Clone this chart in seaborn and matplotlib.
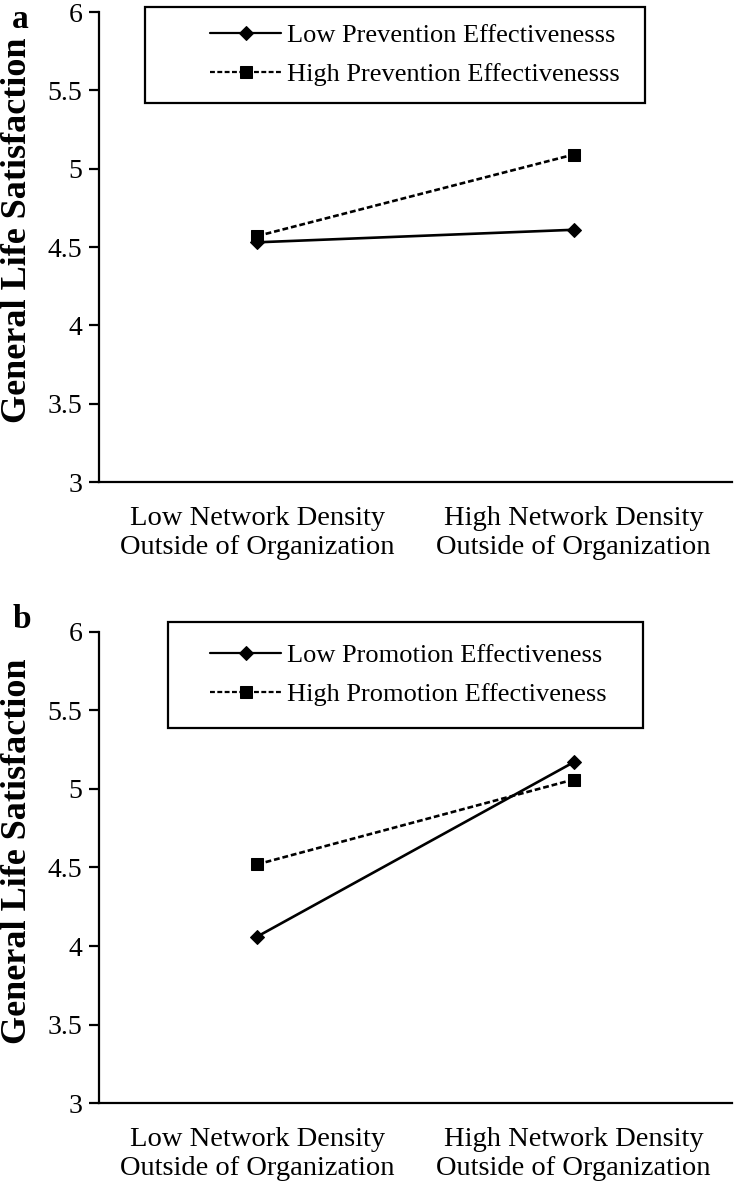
import matplotlib
matplotlib.use('Agg')
import matplotlib.pyplot as plt
import matplotlib.patches as mpatches
import numpy as np
import pandas as pd
import seaborn as sns

categories = ['Low Network Density\nOutside of Organization',
              'High Network Density\nOutside of Organization']

# panel a
series_a = ['Low Prevention Effectivenesss', 'High Prevention Effectivenesss']
low_prev = [4.53, 4.61]
high_prev = [4.57, 5.09]

# panel b
series_b = ['Low Promotion Effectiveness', 'High Promotion Effectiveness']
low_prom = [4.06, 5.17]
high_prom = [4.52, 5.06]

y_ticks = [3, 3.5, 4, 4.5, 5, 5.5, 6]
y_ticklabels = ['3', '3.5', '4', '4.5', '5', '5.5', '6']

sns.set_theme(style='white')
plt.rcParams['font.family'] = ['Liberation Serif', 'DejaVu Serif']
plt.rcParams['axes.edgecolor'] = 'black'
plt.rcParams['axes.linewidth'] = 1.6
plt.rcParams['text.color'] = 'black'
plt.rcParams['axes.labelcolor'] = 'black'
plt.rcParams['xtick.color'] = 'black'
plt.rcParams['ytick.color'] = 'black'


def make_df(names, low, high):
    rows = []
    for name, vals in zip(names, [low, high]):
        for i, v in enumerate(vals):
            rows.append({'x': i, 'y': v, 'series': name})
    return pd.DataFrame(rows)


def draw(ax, names, low, high, letter, letter_y, leg_anchor, box):
    df = make_df(names, low, high)
    sns.lineplot(data=df, x='x', y='y', hue='series', style='series',
                 palette={names[0]: 'black', names[1]: 'black'},
                 markers={names[0]: 'D', names[1]: 's'},
                 dashes={names[0]: '', names[1]: (2.2, 1.1)},
                 markersize=9, linewidth=1.9, markeredgecolor='black',
                 ax=ax, legend=True)
    # smaller diamond
    for ln in ax.lines:
        if ln.get_marker() == 'D':
            ln.set_markersize(7.5)
    handles, labels = ax.get_legend_handles_labels()
    for h in handles:
        if h.get_marker() == 'D':
            h.set_markersize(7)
        else:
            h.set_markersize(8)
        h.set_linewidth(1.6)
    ax.legend(handles, labels, loc='center left', bbox_to_anchor=leg_anchor,
              frameon=False, fontsize=19,
              handlelength=2.7, handletextpad=0.2, labelspacing=0.6,
              borderpad=0, borderaxespad=0)
    # legend box drawn separately (reference box is off-centre)
    x0, y0, x1, y1 = box
    ax.add_patch(mpatches.Rectangle((x0, y0), x1 - x0, y1 - y0,
                                    transform=ax.transAxes, fill=False,
                                    edgecolor='black', linewidth=1.6,
                                    clip_on=False, zorder=5))

    ax.set_xlim(-0.5, 1.5)
    ax.set_ylim(3, 6)
    ax.set_yticks(y_ticks)
    ax.set_yticklabels(y_ticklabels, fontsize=20)
    ax.set_xticks([-0.5, 0.5, 1.5])
    ax.set_xticklabels(['', '', ''])
    ax.set_xticks([0, 1], minor=True)
    ax.set_xticklabels(categories, minor=True, fontsize=20.5, linespacing=1.25)
    ax.tick_params(axis='x', which='minor', length=0, pad=17)
    ax.tick_params(axis='x', which='major', direction='out', length=8,
                   width=1.6, color='black')
    ax.tick_params(axis='y', direction='out', length=7, width=1.6,
                   color='black', pad=5, left=True)
    ax.set_xlabel('')
    ax.set_ylabel('General Life Satisfaction', fontsize=26,
                  fontweight='bold')
    ax.yaxis.set_label_coords(-0.102, 0.535)
    sns.despine(ax=ax)
    ax.text(-0.137, letter_y, letter, transform=ax.transAxes, fontsize=24,
            fontweight='bold', ha='left', va='center')


fig = plt.figure(figsize=(7.34, 11.89), dpi=100)
ax_a = fig.add_axes([0.1349, 0.5946, 0.862, 0.3953])
ax_b = fig.add_axes([0.1349, 0.0723, 0.862, 0.3962])

draw(ax_a, series_a, low_prev, high_prev, 'a', 0.985,
     (0.1754, 0.9085), (0.0727, 0.8064, 0.8626, 1.0106))
draw(ax_b, series_b, low_prom, high_prom, 'b', 1.0255,
     (0.1754, 0.9087), (0.109, 0.796, 0.859, 1.0212))

fig.savefig('out.png', dpi=100)
